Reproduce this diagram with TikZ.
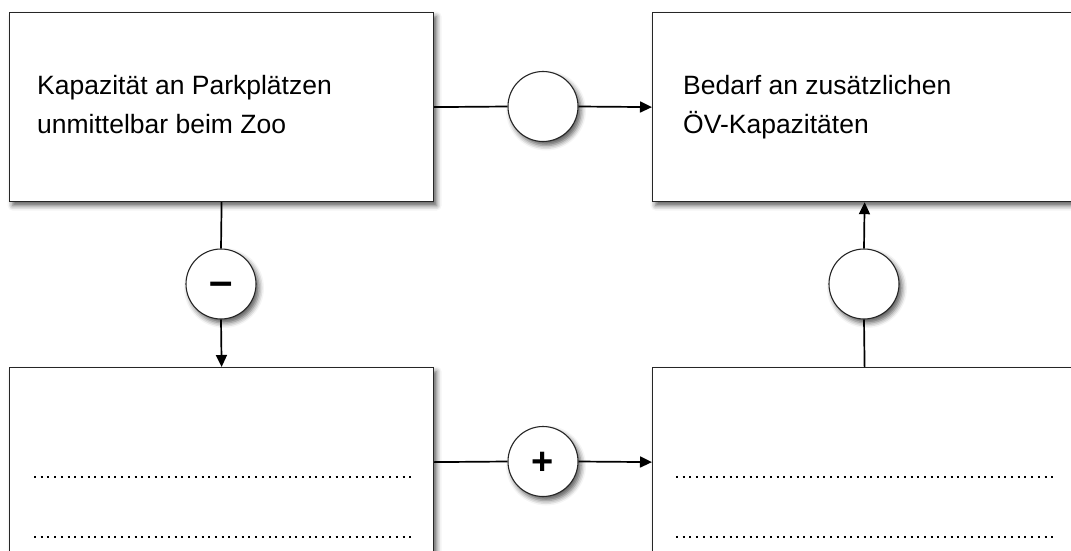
\documentclass[tikz,border=0pt]{standalone}
\usepackage{fontspec}
\setmainfont{Liberation Sans}
\usetikzlibrary{arrows.meta,shadows.blur}

\begin{document}
\begin{tikzpicture}[x=1pt,y=-1pt,
  softshadow/.style={blur shadow={shadow xshift=3pt, shadow yshift=-4pt,
      shadow blur radius=5pt, shadow opacity=65}},
  box/.style={draw=black!85, line width=1.2pt, fill=white, minimum width=424pt,
      minimum height=189pt, inner sep=0pt, anchor=north west, softshadow},
  gate/.style={circle, draw=black!85, fill=white, minimum size=70pt, inner sep=0pt,
      line width=1.1pt, softshadow},
  sign/.style={font=\fontsize{38}{38}\selectfont\bfseries, inner sep=0pt},
  plain/.style={line width=1.7pt},
  link/.style={line width=1.7pt, -{Triangle[length=12pt,width=11pt]}},
  caption/.style={font=\fontsize{26.5}{39}\selectfont, align=left,
      anchor=base west, inner sep=0pt},
  dots/.style={line width=2pt, dash pattern=on 2pt off 4.7pt}]

  \useasboundingbox (0,0) rectangle (1071,551);

  % the four variables
  \node[box] (cap)  at (9,12)    {};
  \node[box] (need) at (652,12)  {};
  \node[box] (lowL) at (9,367)   {};
  \node[box] (lowR) at (652,367) {};

  % polarity circles
  \node[gate] (g1) at (543,106.5) {};
  \node[gate] (g2) at (221,284)   {};
  \node[gate] (g3) at (543,461.5) {};
  \node[gate] (g4) at (864,284)   {};

  \node[sign, font=\fontsize{42}{42}\selectfont\bfseries, yshift=-5pt] (s2) at (g2) {–};
  \node[sign, yshift=-2pt] (s3) at (g3) {+};

  % variable names (anchored on the baseline of the second line)
  \node[caption] (t1) at (37,133.3)  {Kapazität an Parkplätzen\\unmittelbar beim Zoo};
  \node[caption] (t2) at (683,133.3) {Bedarf an zusätzlichen\\ÖV-Kapazitäten};

  % blank lines to fill in
  \draw[dots] (34,476.7) -- (413,476.7);
  \draw[dots] (34,536.5) -- (413,536.5);
  \draw[dots] (676,476.7) -- (1056,476.7);
  \draw[dots] (676,536.5) -- (1056,536.5);

  % causal links
  \draw[plain] (cap.east) -- (g1.west);
  \draw[link]  (g1.east) -- (need.west);
  \draw[plain] (cap.south) -- (g2.north);
  \draw[link]  (g2.south) -- (lowL.north);
  \draw[plain] (lowL.east) -- (g3.west);
  \draw[link]  (g3.east) -- (lowR.west);
  \draw[plain] (lowR.north) -- (g4.south);
  \draw[link]  (g4.north) -- (need.south);
\end{tikzpicture}
\end{document}
